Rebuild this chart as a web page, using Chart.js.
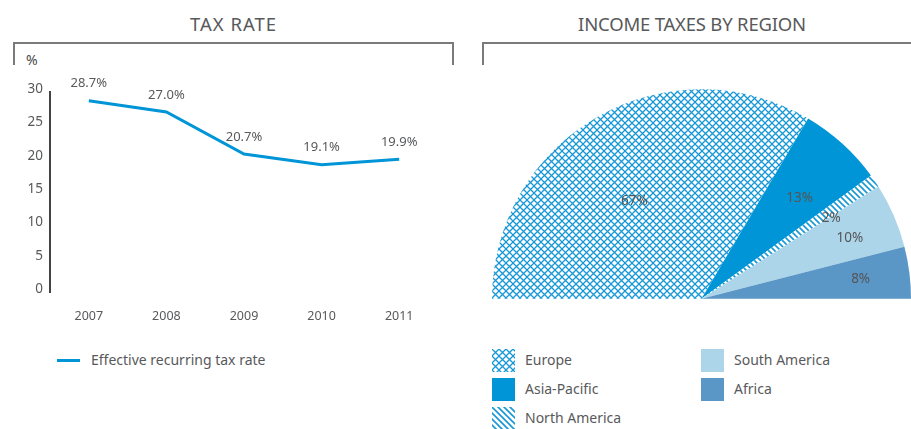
<!DOCTYPE html>
<html>
<head>
<meta charset="utf-8">
<script src="https://cdn.jsdelivr.net/npm/chart.js@4.4.1/dist/chart.umd.min.js"></script>
<style>
  html, body { margin: 0; padding: 0; background: #fff; }
  body { width: 911px; height: 429px; position: relative; overflow: hidden;
         font-family: 'Noto Sans', sans-serif; color: #58595b; }
  .title { position: absolute; top: 11px; font-size: 18.5px; color: #58595b;
           text-align: center; }
  .frame { position: absolute; top: 42px; height: 21px; border-top: 2px solid #7a7a7a; }
  .box   { position: absolute; }
  .lbl   { position: absolute; font-size: 14px; line-height: 18px; white-space: nowrap; }
  canvas.sw { position: absolute; width: 23px; height: 23px; }
</style>
</head>
<body>
  <div class="title" style="left:13px;width:441px;letter-spacing:1px">TAX RATE</div>
  <div class="frame" style="left:13px;width:437px;border-left:2px solid #7a7a7a;border-right:2px solid #7a7a7a"></div>
  <div class="title" style="left:482px;width:420px;letter-spacing:-0.2px">INCOME TAXES BY REGION</div>
  <div class="frame" style="left:482px;width:440px;border-left:2px solid #7a7a7a"></div>

  <div class="lbl" style="left:26px;top:51px;font-size:14px;color:#4a4a4a">%</div>

  <div class="box" style="position:absolute;left:0;top:70px;width:460px;height:260px">
    <canvas id="lineChart"></canvas>
  </div>
  <div class="box" style="position:absolute;left:492px;top:88px;width:419px;height:212px">
    <canvas id="pieChart"></canvas>
  </div>

  <div class="box" style="left:57px;top:359px;width:23px;height:3px;background:#0095d6"></div>
  <div class="lbl" style="left:91px;top:351px">Effective recurring tax rate</div>

  <div id="pieLegend"></div>

<script>
/* ── Datos ── */
const YEARS = ['2007', '2008', '2009', '2010', '2011'];
const TAX_RATE = [28.7, 27.0, 20.7, 19.1, 19.9];
const Y_TICKS = [0, 5, 10, 15, 20, 25, 30];

const REGIONS = ['Europe', 'Asia-Pacific', 'North America', 'South America', 'Africa'];
const REGION_SHARE = [67, 13, 2, 10, 8];

const BLUE  = '#0095d6';
const HATCH = '#1798d6';
const LIGHT = '#acd5e9';
const MID   = '#5a96c6';
const TEXT  = '#58595b';

/* ── Tramas ── */
function crossPattern() {
  const c = document.createElement('canvas');
  c.width = 7; c.height = 7;
  const g = c.getContext('2d');
  g.fillStyle = '#fff';
  g.fillRect(0, 0, 7, 7);
  g.strokeStyle = HATCH;
  g.lineWidth = 1.3;
  g.beginPath();
  g.moveTo(-1, -1); g.lineTo(8, 8);
  g.moveTo(8, -1); g.lineTo(-1, 8);
  g.stroke();
  return g.createPattern(c, 'repeat');
}

function stripePattern() {
  const c = document.createElement('canvas');
  c.width = 6; c.height = 6;
  const g = c.getContext('2d');
  g.fillStyle = '#fff';
  g.fillRect(0, 0, 6, 6);
  g.strokeStyle = HATCH;
  g.lineWidth = 1.6;
  g.beginPath();
  g.moveTo(-1, -1); g.lineTo(7, 7);
  g.moveTo(-4, 2); g.lineTo(2, 8);
  g.moveTo(4, -2); g.lineTo(8, 2);
  g.stroke();
  return g.createPattern(c, 'repeat');
}

const FILLS = [crossPattern(), BLUE, stripePattern(), LIGHT, MID];

/* ── Etiquetas ── */
const lineLabels = {
  id: 'lineLabels',
  afterDatasetsDraw(chart) {
    const ctx = chart.ctx;
    const meta = chart.getDatasetMeta(0);
    ctx.save();
    ctx.font = '13px "Noto Sans"';
    ctx.fillStyle = TEXT;
    ctx.textAlign = 'center';
    ctx.textBaseline = 'middle';
    meta.data.forEach((pt, i) => {
      ctx.fillText(TAX_RATE[i].toFixed(1) + '%', pt.x, pt.y - 17);
    });
    ctx.restore();
  },
};

const pieLabels = {
  id: 'pieLabels',
  afterDatasetsDraw(chart, args, opts) {
    const ctx = chart.ctx;
    const meta = chart.getDatasetMeta(0);
    ctx.save();
    ctx.font = '13.5px "Noto Sans"';
    ctx.fillStyle = '#555';
    ctx.textAlign = 'center';
    ctx.textBaseline = 'middle';
    meta.data.forEach((arc, i) => {
      const p = arc.getProps(['x', 'y', 'startAngle', 'endAngle', 'outerRadius'], true);
      const a = (p.startAngle + p.endAngle) / 2 + (opts.shift[i] || 0);
      const r = p.outerRadius * opts.radius[i];
      ctx.fillText(REGION_SHARE[i] + '%', p.x + Math.cos(a) * r, p.y + Math.sin(a) * r);
    });
    ctx.restore();
  },
};

/* ── Gráfico de líneas ── */
function initLine() {
  new Chart(document.getElementById('lineChart'), {
    type: 'line',
    data: {
      labels: YEARS,
      datasets: [{
        label: 'Effective recurring tax rate',
        data: TAX_RATE,
        borderColor: BLUE,
        borderWidth: 3,
        pointRadius: 0,
        tension: 0,
        fill: false,
      }],
    },
    options: {
      responsive: true,
      maintainAspectRatio: false,
      animation: false,
      layout: { padding: { top: 22, right: 22, left: 0, bottom: 0 } },
      plugins: { legend: { display: false }, tooltip: { enabled: false } },
      scales: {
        x: {
          offset: true,
          grid: { display: false },
          border: { display: false },
          ticks: { color: TEXT, font: { family: 'Noto Sans', size: 12.5 }, padding: 9, maxRotation: 0 },
          afterFit: s => { s.height = 38; },
        },
        y: {
          min: 0,
          max: 30,
          afterBuildTicks: s => { s.ticks = Y_TICKS.map(v => ({ value: v })); },
          grid: { display: false, drawTicks: false },
          border: { display: true, color: '#444', width: 2 },
          ticks: { color: TEXT, font: { family: 'Noto Sans', size: 13.5 }, padding: 7, labelOffset: -3 },
          afterFit: s => { s.width = 50; },
        },
      },
    },
    plugins: [lineLabels],
  });
}

/* ── Gráfico semicircular ── */
function initPie() {
  new Chart(document.getElementById('pieChart'), {
    type: 'pie',
    data: {
      labels: REGIONS,
      datasets: [{
        data: REGION_SHARE,
        backgroundColor: FILLS,
        borderWidth: 0,
      }],
    },
    options: {
      responsive: true,
      maintainAspectRatio: false,
      animation: false,
      rotation: -90,
      circumference: 180,
      plugins: {
        legend: { display: false },
        tooltip: { enabled: false },
        pieLabels: {
          radius: [0.565, 0.67, 0.73, 0.765, 0.765],
          shift: [-0.085, 0.035, 0.04, 0.02, 0.005],
        },
      },
    },
    plugins: [pieLabels],
  });
}

/* ── Leyenda ── */
function renderPieLegend() {
  const box = document.getElementById('pieLegend');
  const slots = [[492, 349], [492, 378], [492, 407], [701, 349], [701, 378]];
  REGIONS.forEach((name, i) => {
    const [x, y] = slots[i];
    const sw = document.createElement('canvas');
    sw.className = 'sw';
    sw.width = 23; sw.height = 23;
    sw.style.left = x + 'px';
    sw.style.top = y + 'px';
    const g = sw.getContext('2d');
    g.fillStyle = FILLS[i];
    g.fillRect(0, 0, 23, 23);
    box.appendChild(sw);

    const t = document.createElement('div');
    t.className = 'lbl';
    t.style.left = (x + 33) + 'px';
    t.style.top = (y + 2) + 'px';
    t.textContent = name;
    box.appendChild(t);
  });
}

/* ── Init ── */
document.addEventListener('DOMContentLoaded', () => {
  initLine();
  initPie();
  renderPieLegend();
});
</script>
</body>
</html>
